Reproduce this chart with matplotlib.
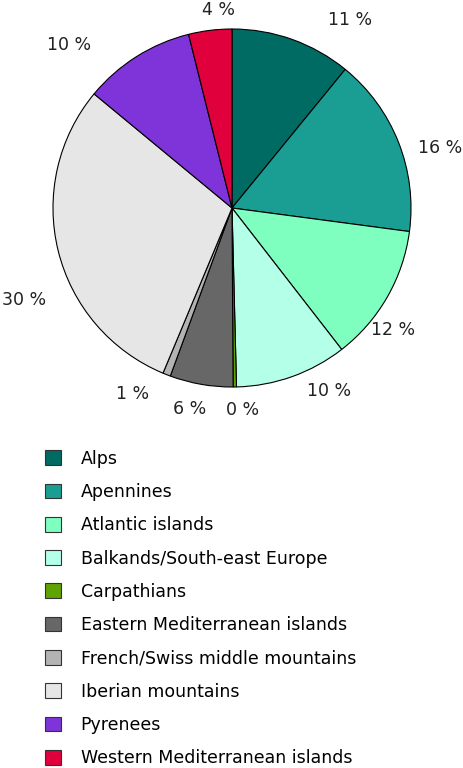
import matplotlib
matplotlib.use('Agg')
import matplotlib.pyplot as plt
import numpy as np

regions = ['Alps', 'Apennines', 'Atlantic islands', 'Balkands/South-east Europe',
           'Carpathians', 'Eastern Mediterranean islands',
           'French/Swiss middle mountains', 'Iberian mountains', 'Pyrenees',
           'Western Mediterranean islands']
shares = [10.9, 16.2, 12.4, 10.1, 0.3, 5.7, 0.7, 29.7, 10.1, 3.9]
pct_labels = ['11 %', '16 %', '12 %', '10 %', '0 %', '6 %', '1 %', '30 %', '10 %', '4 %']
colors = ['#006b63', '#1a9e94', '#7effc0', '#b3ffe8', '#5fa300', '#676767',
          '#b3b3b3', '#e6e6e6', '#7e34d8', '#e0003c']

# label placement: angle (deg, clockwise from top) and distance in radii
lab_ang = [32, 74, 127, 152, 177, 192, 208, 246, 315, 356]
lab_dist = [1.24, 1.21, 1.13, 1.16, 1.13, 1.15, 1.18, 1.27, 1.29, 1.11]

plt.rcParams['font.family'] = ['DejaVu Sans']

fig = plt.figure(figsize=(4.63, 7.68), dpi=100)
ax = fig.add_axes([53 / 463, 1 - 387 / 768, 358 / 463, 358 / 768])

wedges, _ = ax.pie(shares, colors=colors, startangle=90, counterclock=False,
                   wedgeprops=dict(edgecolor='black', linewidth=0.8))
ax.set_xlim(-1, 1)
ax.set_ylim(-1, 1)
ax.set_aspect('equal')

for txt, a, d in zip(pct_labels, lab_ang, lab_dist):
    t = np.radians(a)
    ax.text(d * np.sin(t), d * np.cos(t), txt, ha='center', va='center',
            fontsize=12.5, color='#222222', clip_on=False)

leg = fig.legend(wedges, regions, loc='upper left',
                 bbox_to_anchor=(36 / 463, 1 - 441 / 768), frameon=False,
                 fontsize=12.5, handlelength=0.92, handleheight=0.92,
                 handletextpad=1.15, labelspacing=0.88, borderpad=0)
for h in leg.legend_handles:
    h.set_edgecolor('#333333')
    h.set_linewidth(0.8)

fig.savefig('out.png', dpi=100)
